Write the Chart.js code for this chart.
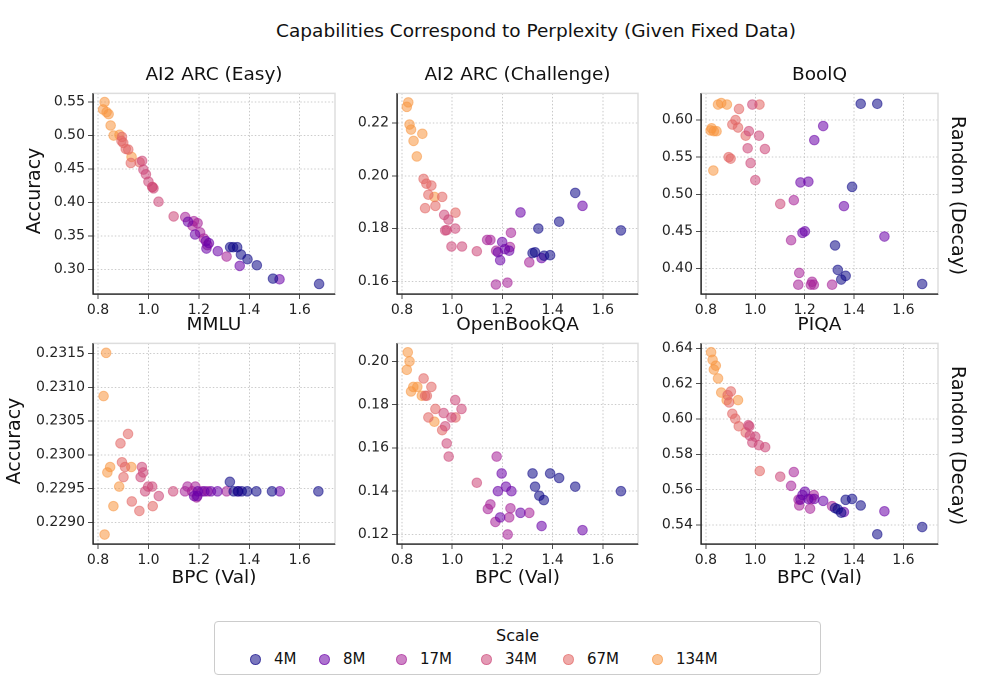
<!DOCTYPE html>
<html>
<head>
<meta charset="utf-8">
<script src="https://cdn.jsdelivr.net/npm/chart.js@4"></script>
<style>
  body { margin: 0; background: #fff; font-family: "DejaVu Sans", sans-serif; color: #111; }
  #wrap { position: relative; width: 989px; height: 688px; }
  canvas { position: absolute; }
  .txt { position: absolute; white-space: nowrap; }
  .title { font-size: 18.5px; left: 0; width: 1072px; text-align: center; top: 20px; }
  .ptitle { font-size: 18.5px; text-align: center; }
  .ylab { font-size: 19px; transform: rotate(-90deg); transform-origin: center; }
  .rlab { font-size: 19px; transform: rotate(90deg); transform-origin: center; }
  .xlab { font-size: 18.5px; text-align: center; }
  #legend { position: absolute; left: 214px; top: 621px; width: 605px; height: 52px; border: 1px solid #ccc; border-radius: 4px; }
  #legend .lt { position: absolute; top: 4px; width: 100%; text-align: center; font-size: 16px; }
  #legend .it { position: absolute; top: 28px; font-size: 15px; }
  #legend .dot { display: inline-block; width: 9px; height: 9px; border-radius: 50%; margin-right: 13px; vertical-align: -1px; }
</style>
</head>
<body>
<div id="wrap"></div>
<script>
const scales = ['4M', '8M', '17M', '34M', '67M', '134M'];
const scaleColors = ['#0d0887', '#6a00a8', '#a62098', '#cc4778', '#e16462', '#f89540'];
const xTicks = [0.8, 1.0, 1.2, 1.4, 1.6];

// [BPC, accuracy] pairs, one list per scale (4M .. 134M)
const arcEasy = [
  [[1.324,0.333],[1.336,0.333],[1.352,0.333],[1.367,0.322],[1.393,0.315],[1.43,0.306],[1.494,0.286],[1.677,0.278]],
  [[1.157,0.371],[1.185,0.352],[1.228,0.342],[1.24,0.339],[1.275,0.327],[1.362,0.305],[1.52,0.285],[1.23,0.331]],
  [[1.146,0.378],[1.18,0.372],[1.195,0.369],[1.175,0.365],[1.205,0.355],[1.22,0.346],[1.234,0.336],[1.31,0.319]],
  [[0.975,0.462],[0.98,0.449],[0.99,0.442],[1.0,0.431],[1.015,0.423],[1.02,0.421],[1.04,0.401],[1.10,0.379]],
  [[0.895,0.498],[0.893,0.492],[0.90,0.489],[0.91,0.48],[0.92,0.479],[0.93,0.459],[0.965,0.46],[1.016,0.423]],
  [[0.826,0.55],[0.82,0.539],[0.834,0.535],[0.842,0.532],[0.85,0.515],[0.862,0.50],[0.885,0.501],[0.933,0.468]]
];
const arcChallenge = [
  [[1.32,0.1707],[1.33,0.171],[1.343,0.18],[1.366,0.1697],[1.39,0.1699],[1.426,0.1826],[1.49,0.1935],[1.672,0.1793]],
  [[1.182,0.171],[1.191,0.168],[1.199,0.1749],[1.21,0.1722],[1.227,0.1716],[1.272,0.1861],[1.356,0.1688],[1.519,0.1886]],
  [[1.139,0.1757],[1.152,0.1757],[1.174,0.1588],[1.22,0.1595],[1.175,0.1716],[1.23,0.173],[1.234,0.1784],[1.307,0.1672]],
  [[0.968,0.1852],[0.985,0.1834],[0.972,0.1793],[0.978,0.1794],[1.012,0.18],[0.997,0.1732],[1.039,0.1732],[1.098,0.1714]],
  [[0.886,0.1988],[0.897,0.197],[0.917,0.1963],[0.905,0.1928],[0.892,0.1877],[0.933,0.1886],[0.96,0.192],[1.013,0.186]],
  [[0.825,0.2278],[0.819,0.2261],[0.83,0.2194],[0.836,0.2175],[0.846,0.2132],[0.859,0.2073],[0.881,0.2159],[0.929,0.192]]
];
const boolq = [
  [[1.323,0.431],[1.334,0.398],[1.348,0.385],[1.366,0.39],[1.392,0.51],[1.427,0.622],[1.494,0.622],[1.676,0.379]],
  [[1.183,0.516],[1.215,0.517],[1.191,0.448],[1.201,0.45],[1.239,0.573],[1.275,0.592],[1.359,0.484],[1.523,0.443]],
  [[1.145,0.438],[1.156,0.492],[1.178,0.394],[1.174,0.378],[1.23,0.382],[1.237,0.378],[1.311,0.378],[1.225,0.378]],
  [[0.988,0.621],[0.974,0.585],[0.969,0.562],[0.981,0.542],[1.0,0.519],[1.015,0.579],[1.039,0.561],[1.101,0.487]],
  [[0.92,0.60],[0.907,0.594],[0.93,0.59],[0.934,0.615],[0.892,0.55],[0.90,0.548],[0.961,0.579],[1.017,0.621]],
  [[0.823,0.589],[0.832,0.585],[0.843,0.585],[0.83,0.532],[0.849,0.621],[0.862,0.623],[0.885,0.621],[0.819,0.586]]
];
const mmlu = [
  [[1.323,0.2296],[1.338,0.22946],[1.354,0.22946],[1.37,0.22946],[1.392,0.22946],[1.428,0.22946],[1.49,0.22946],[1.674,0.22946]],
  [[1.181,0.22939],[1.196,0.22946],[1.222,0.22946],[1.274,0.22946],[1.357,0.22946],[1.521,0.22946],[1.194,0.22939],[1.248,0.22946]],
  [[1.155,0.22953],[1.145,0.22946],[1.186,0.22953],[1.173,0.22946],[1.212,0.22946],[1.235,0.22946],[1.31,0.22946],[1.191,0.22937]],
  [[0.974,0.22982],[0.979,0.22974],[0.969,0.22967],[0.987,0.22946],[0.999,0.22953],[1.015,0.22953],[1.041,0.22939],[1.098,0.22946]],
  [[0.889,0.23017],[0.895,0.22989],[0.907,0.22982],[0.901,0.22967],[0.919,0.23031],[0.934,0.22931],[0.964,0.22917],[1.017,0.22924]],
  [[0.832,0.23151],[0.822,0.23087],[0.826,0.22882],[0.837,0.22974],[0.848,0.22982],[0.861,0.22924],[0.884,0.22953],[0.932,0.22982]]
];
const openbookqa = [
  [[1.32,0.1482],[1.33,0.1421],[1.347,0.1379],[1.365,0.1359],[1.39,0.1482],[1.426,0.1461],[1.49,0.1421],[1.672,0.14]],
  [[1.182,0.14],[1.191,0.1279],[1.197,0.1482],[1.214,0.1421],[1.236,0.14],[1.272,0.13],[1.356,0.1239],[1.519,0.122]],
  [[1.142,0.1318],[1.152,0.1339],[1.172,0.1258],[1.177,0.156],[1.221,0.12],[1.227,0.1279],[1.232,0.1321],[1.307,0.13]],
  [[0.966,0.1761],[0.972,0.17],[0.978,0.1621],[0.986,0.156],[0.997,0.1741],[1.012,0.1821],[1.037,0.178],[1.098,0.1439]],
  [[0.886,0.1921],[0.917,0.1882],[0.892,0.1841],[0.899,0.1841],[0.933,0.178],[0.905,0.1741],[0.96,0.1682],[1.013,0.1741]],
  [[0.823,0.2042],[0.83,0.20],[0.819,0.1961],[0.836,0.1861],[0.845,0.1882],[0.861,0.1882],[0.879,0.1841],[0.929,0.1721]]
];
const piqa = [
  [[1.323,0.5496],[1.334,0.5489],[1.348,0.547],[1.366,0.5543],[1.392,0.5548],[1.427,0.5511],[1.494,0.5348],[1.676,0.5389]],
  [[1.183,0.5544],[1.191,0.557],[1.201,0.5589],[1.215,0.5548],[1.275,0.5537],[1.359,0.5474],[1.523,0.5478],[1.239,0.5548]],
  [[1.145,0.5622],[1.156,0.57],[1.178,0.5511],[1.175,0.5544],[1.227,0.5548],[1.237,0.557],[1.311,0.5507],[1.222,0.5493]],
  [[0.972,0.5965],[0.976,0.5959],[0.978,0.5906],[0.988,0.5867],[1.0,0.59],[1.015,0.5852],[1.04,0.5841],[1.101,0.5674]],
  [[0.888,0.6135],[0.901,0.6156],[0.894,0.6094],[0.907,0.603],[0.919,0.6002],[0.933,0.5959],[0.961,0.5924],[1.018,0.5706]],
  [[0.821,0.6378],[0.827,0.6335],[0.84,0.6302],[0.832,0.628],[0.849,0.623],[0.862,0.615],[0.884,0.6107],[0.93,0.6107]]
];

const panels = [
  { title: 'AI2 ARC (Easy)', data: arcEasy, yTicks: [0.30,0.35,0.40,0.45,0.50,0.55], ymin: 0.263, ymax: 0.563, dec: 2 },
  { title: 'AI2 ARC (Challenge)', data: arcChallenge, yTicks: [0.16,0.18,0.20,0.22], ymin: 0.1552, ymax: 0.2312, dec: 2 },
  { title: 'BoolQ', data: boolq, yTicks: [0.40,0.45,0.50,0.55,0.60], ymin: 0.3655, ymax: 0.636, dec: 2 },
  { title: 'MMLU', data: mmlu, yTicks: [0.2290,0.2295,0.2300,0.2305,0.2310,0.2315], ymin: 0.22868, ymax: 0.23165, dec: 4 },
  { title: 'OpenBookQA', data: openbookqa, yTicks: [0.12,0.14,0.16,0.18,0.20], ymin: 0.1156, ymax: 0.2083, dec: 2 },
  { title: 'PIQA', data: piqa, yTicks: [0.54,0.56,0.58,0.60,0.62,0.64], ymin: 0.5293, ymax: 0.6428, dec: 2 }
];

const lefts = [93, 397, 701], widths = [242, 241, 237], tops = [90, 340], plotH = 204;
const wrap = document.getElementById('wrap');

function addText(cls, html, style) {
  const d = document.createElement('div');
  d.className = 'txt ' + cls;
  d.innerHTML = html;
  Object.assign(d.style, style);
  wrap.appendChild(d);
  return d;
}

function alpha(hex, a) {
  const n = parseInt(hex.slice(1), 16);
  return `rgba(${n >> 16}, ${(n >> 8) & 255}, ${n & 255}, ${a})`;
}

// light grey top/right frame, solid black left/bottom spines
const framePlugin = {
  id: 'frame',
  afterDraw(chart) {
    const { ctx, chartArea: a } = chart;
    ctx.save();
    ctx.strokeStyle = '#dddddd';
    ctx.lineWidth = 1.5;
    ctx.beginPath();
    ctx.moveTo(a.left, a.top); ctx.lineTo(a.right, a.top); ctx.lineTo(a.right, a.bottom);
    ctx.stroke();
    ctx.strokeStyle = '#222'; ctx.lineWidth = 1.3;
    ctx.beginPath();
    ctx.moveTo(a.left, a.top); ctx.lineTo(a.left, a.bottom); ctx.lineTo(a.right, a.bottom);
    ctx.stroke();
    ctx.restore();
  }
};

addText('title', 'Capabilities Correspond to Perplexity (Given Fixed Data)', {});

panels.forEach((p, i) => {
  const col = i % 3, row = Math.floor(i / 3);
  const L = lefts[col], T = tops[row], W = widths[col];
  const cv = document.createElement('canvas');
  cv.style.left = (L - 60) + 'px';
  cv.style.top = (T - 8) + 'px';
  cv.style.width = (W + 68) + 'px';
  cv.style.height = (plotH + 8 + 40) + 'px';
  wrap.appendChild(cv);

  addText('ptitle', p.title, { left: L + 'px', width: W + 'px', top: (T - 27) + 'px' });

  new Chart(cv, {
    type: 'scatter',
    data: {
      datasets: p.data.map((pts, s) => ({
        label: scales[s],
        data: pts.map(([x, y]) => ({ x, y })),
        backgroundColor: alpha(scaleColors[s], 0.55),
        borderColor: alpha(scaleColors[s], 0.55),
        borderWidth: 1,
        pointRadius: 4.8,
        clip: false
      }))
    },
    options: {
      responsive: false,
      animation: false,
      devicePixelRatio: 2,
      layout: { padding: { top: 8, right: 8, left: 0, bottom: 0 } },
      plugins: { legend: { display: false }, tooltip: { enabled: false } },
      scales: {
        x: {
          type: 'linear', min: 0.78, max: 1.74,
          afterBuildTicks: s => { s.ticks = xTicks.map(v => ({ value: v })); },
          afterFit: s => { s.height = 40; },
          ticks: { callback: v => v.toFixed(1), color: '#222', font: { family: 'DejaVu Sans', size: 14 }, padding: 3 },
          grid: { color: '#bbbbbb', lineWidth: 0.8, tickColor: '#222', tickLength: 5 },
          border: { color: '#222', width: 1.3, dash: [1.5, 2] }
        },
        y: {
          type: 'linear', min: p.ymin, max: p.ymax,
          afterBuildTicks: s => { s.ticks = p.yTicks.map(v => ({ value: v })); },
          afterFit: s => { s.width = 60; },
          ticks: { callback: v => v.toFixed(p.dec), color: '#222', font: { family: 'DejaVu Sans', size: 14 }, padding: 3 },
          grid: { color: '#bbbbbb', lineWidth: 0.8, tickColor: '#222', tickLength: 5 },
          border: { color: '#222', width: 1.3, dash: [1.5, 2] }
        }
      }
    },
    plugins: [framePlugin]
  });

  if (row === 1) addText('xlab', 'BPC (Val)', { left: L + 'px', width: W + 'px', top: '566px' });
  if (col === 2) addText('rlab', 'Random (Decay)', { left: (959 - 75) + 'px', width: '150px', textAlign: 'center', top: (T + plotH / 2 - 12) + 'px' });
  if (col === 0) addText('ylab', 'Accuracy', { left: (i === 0 ? 33 : 13) - 50 + 'px', width: '100px', textAlign: 'center', top: (T + plotH / 2 - 12) + 'px' });
});

// legend
const leg = document.createElement('div');
leg.id = 'legend';
leg.innerHTML = '<div class="lt">Scale</div>';
const legX = [253, 322, 399, 484, 566, 655];
scales.forEach((s, k) => {
  const it = document.createElement('div');
  it.className = 'it';
  it.style.left = (legX[k] - 214 - 4) + 'px';
  it.innerHTML = `<span class="dot" style="background:${alpha(scaleColors[k], 0.55)};border:1px solid ${alpha(scaleColors[k], 0.55)}"></span>${s}`;
  leg.appendChild(it);
});
wrap.appendChild(leg);
</script>
</body>
</html>
